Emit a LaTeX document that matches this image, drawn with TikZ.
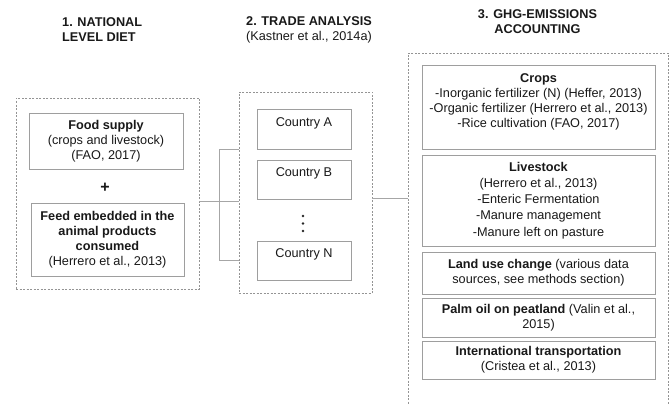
\documentclass[tikz,border=0pt]{standalone}
\usepackage{fontspec}
\setmainfont{Liberation Sans}
\begin{document}
\begin{tikzpicture}[x=1pt,y=-1pt,
  every node/.style={font=\fontsize{12.7}{15}\selectfont, text=black!90, inner sep=0pt},
  solidbox/.style={draw=black!38, line width=0.9pt, align=center, rectangle},
  dashbox/.style={draw=black!42, line width=0.6pt, dash pattern=on 2pt off 1.5pt, rectangle},
  conn/.style={draw=black!35, line width=0.7pt},
  hdr/.style={align=center},
  dotn/.style={circle, fill=black!85, minimum size=2.6pt}]
\useasboundingbox (0,0) rectangle (670,404);
\fill[white] (0,0) rectangle (670,404);

% headers
\node[hdr, align=left, anchor=west] (h1) at (62,30) {\textbf{1. NATIONAL}\\\textbf{LEVEL DIET}};
\node[hdr] (h2) at (309,29.5) {\textbf{2. TRADE ANALYSIS}\\(Kastner et al., 2014a)};
\node[hdr] (h3) at (537.5,22) {\textbf{3. GHG-EMISSIONS}\\\textbf{ACCOUNTING}};

% column 1
\node[dashbox, minimum width=183pt, minimum height=191pt] (L) at (107.5,193.5) {};
\node[solidbox, minimum width=154pt, minimum height=56pt] (food) at (106,141)
  {\textbf{Food supply}\\(crops and livestock)\\(FAO, 2017)};
\node[font=\fontsize{16}{16}\selectfont\bfseries] (plus) at (105,188) {+};
\node[solidbox, minimum width=153pt, minimum height=73pt] (feed) at (107.5,239.5)
  {\textbf{Feed embedded in the}\\\textbf{animal products}\\\textbf{consumed}\\(Herrero et al., 2013)};

% column 2
\node[dashbox, minimum width=133pt, minimum height=201pt] (M) at (305.5,192.5) {};
\node[solidbox, minimum width=94pt, minimum height=40pt] (A) at (304,129) {};
\node (At) at (304,123) {Country A};
\node[solidbox, minimum width=94pt, minimum height=39pt] (B) at (304,179.5) {};
\node (Bt) at (304,173.5) {Country B};
\node[dotn] (d1) at (303,216) {};
\node[dotn] (d2) at (303,223.5) {};
\node[dotn] (d3) at (303,231) {};
\node[solidbox, minimum width=94pt, minimum height=39pt] (N) at (304,260.5) {};
\node (Nt) at (304,254) {Country N};

% column 3
\node[dashbox, minimum width=260pt, minimum height=367pt] (R) at (538,236.5) {};
\node[solidbox, minimum width=233pt, minimum height=84pt] (crops) at (538.5,107) {};
\node[align=center] (cropst) at (538.5,101.5)
  {\textbf{Crops}\\-Inorganic fertilizer (N) (Heffer, 2013)\\-Organic fertilizer (Herrero et al., 2013)\\-Rice cultivation (FAO, 2017)};
\node[solidbox, minimum width=233pt, minimum height=91pt, font=\fontsize{12.7}{16.2}\selectfont] (live) at (538.5,200.5)
  {\textbf{Livestock}\\(Herrero et al., 2013)\\-Enteric Fermentation\\-Manure management\\-Manure left on pasture};
\node[solidbox, minimum width=233pt, minimum height=42pt] (land) at (538.5,273)
  {\textbf{Land use change} (various data\\sources, see methods section)};
\node[solidbox, minimum width=233pt, minimum height=39pt] (palm) at (538.5,317.5)
  {\textbf{Palm oil on peatland} (Valin et al.,\\2015)};
\node[solidbox, minimum width=233pt, minimum height=38pt] (intl) at (538.5,360)
  {\textbf{International transportation}\\(Cristea et al., 2013)};

% connectors
\coordinate (j1) at (219,201.5);
\coordinate (bt) at (219,149);
\coordinate (bb) at (219,260);
\coordinate (j2) at (390,198.5);
\draw[conn] (L.east |- j1) -- (M.west |- j1);
\draw[conn] (M.west |- bt) -- (bt) -- (bb) -- (M.west |- bb);
\draw[conn] (M.east |- j2) -- (R.west |- j2);
\end{tikzpicture}
\end{document}
